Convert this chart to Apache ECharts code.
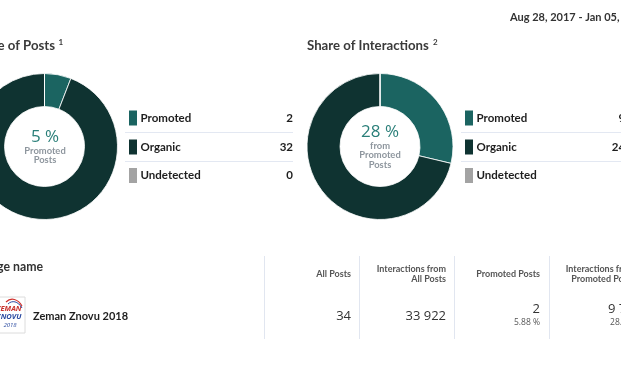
<!DOCTYPE html>
<html><head><meta charset="utf-8">
<script src="https://cdn.jsdelivr.net/npm/echarts@6/dist/echarts.min.js"></script>
<style>html,body{margin:0;padding:0;background:#fff;}#c{width:621px;height:380px;}</style>
</head><body><div id="c"></div>
<script>
// ---- data ----
var categories = ['Promoted', 'Organic', 'Undetected'];
var postsValues = [2, 32, 0];
var interactionValues = [9740, 24182, 0];
var dateRange = 'Aug 28, 2017 - Jan 05, 2018';
var tableHeaders = ['All Posts', 'Interactions from\nAll Posts', 'Promoted Posts', 'Interactions from\nPromoted Posts'];
var pageName = 'Zeman Znovu 2018';
var rowAllPosts = 34;
var rowInteractions = 33922;
var rowPromotedPosts = 2;
var rowPromotedInteractions = 9740;

var colors = ['#1b6461', '#0f3331', '#a3a3a3'];
var FONT = '"Open Sans", sans-serif';
var BFONT = 'Lato, sans-serif';

function fmt(n){ return String(n).replace(/\B(?=(\d{3})+(?!\d))/g, ' '); }
function sum(a){ return a.reduce(function(s,v){return s+v;},0); }

var chart = echarts.init(document.getElementById('c'), null, {renderer:'canvas'});

var g = [];
// date
g.push({type:'text', x:510, y:17, style:{text:dateRange, font:'bold 11px '+BFONT, fill:'#333', verticalAlign:'middle'}});
// titles
g.push({type:'text', x:55, y:46, style:{text:'Share of Posts', font:'bold 13.2px '+BFONT, fill:'#3a3a3a', align:'right', verticalAlign:'middle'}});
g.push({type:'text', x:58.5, y:42, style:{text:'1', font:'bold 8px '+BFONT, fill:'#3a3a3a', verticalAlign:'middle'}});
g.push({type:'text', x:307, y:46, style:{text:'Share of Interactions', font:'bold 13.2px '+BFONT, fill:'#3a3a3a', verticalAlign:'middle'}});
g.push({type:'text', x:433, y:42, style:{text:'2', font:'bold 8px '+BFONT, fill:'#3a3a3a', verticalAlign:'middle'}});

// center texts
var pPct = Math.floor(postsValues[0]/sum(postsValues)*100);
var iPct = Math.floor(interactionValues[0]/sum(interactionValues)*100);
g.push({type:'text', x:45, y:137, style:{text:pPct+' %', font:'17px '+FONT, fill:'#2a7f79', align:'center', verticalAlign:'middle'}});
g.push({type:'text', x:45, y:155.5, style:{text:'Promoted\nPosts', font:'bold 9.4px '+BFONT, fill:'#8e969e', align:'center', verticalAlign:'middle', lineHeight:9.5}});
g.push({type:'text', x:380, y:132, style:{text:iPct+' %', font:'17px '+FONT, fill:'#2a7f79', align:'center', verticalAlign:'middle'}});
g.push({type:'text', x:380, y:155.2, style:{text:'from\nPromoted\nPosts', font:'bold 9.4px '+BFONT, fill:'#8e969e', align:'center', verticalAlign:'middle', lineHeight:9.3}});

// legends
function legend(x0, sepX1, valX, values){
  var ys = [118, 147, 175.5];
  for (var i=0;i<categories.length;i++){
    g.push({type:'rect', shape:{x:x0+4, y:ys[i]-7.5, width:8, height:15}, style:{fill:colors[i]}});
    g.push({type:'text', x:x0+15.5, y:ys[i], style:{text:categories[i], font:'bold 11.5px '+BFONT, fill:'#1e1e1e', verticalAlign:'middle'}});
    g.push({type:'text', x:valX, y:ys[i], style:{text:fmt(values[i]), font:'bold 11.5px '+BFONT, fill:'#1e1e1e', align:'right', verticalAlign:'middle'}});
    if (i<2) g.push({type:'line', shape:{x1:x0, y1:ys[i]+14.5, x2:sepX1, y2:ys[i]+14.5}, style:{stroke:'#e3e8f2', lineWidth:1}});
  }
}
legend(125, 293, 293, postsValues);
legend(461, 660, 648, interactionValues);

// table
g.push({type:'text', x:43, y:267, style:{text:'Page name', font:'bold 12.3px '+BFONT, fill:'#333', align:'right', verticalAlign:'middle'}});
[264, 359, 454, 549].forEach(function(x){
  g.push({type:'line', shape:{x1:x+0.5, y1:256, x2:x+0.5, y2:339}, style:{stroke:'#e1e6f0', lineWidth:1}});
});
var hdrX = [351, 446, 540, 635];
for (var i=0;i<tableHeaders.length;i++){
  g.push({type:'text', x:hdrX[i], y:274.5, style:{text:tableHeaders[i], font:'bold 9px '+BFONT, fill:'#555', align:'right', verticalAlign:'middle', lineHeight:10}});
}
// logo
g.push({type:'rect', shape:{x:-3, y:297, width:28, height:36}, style:{fill:'#fff', stroke:'#dcdcdc', lineWidth:1}});
g.push({type:'text', x:9, y:309, style:{text:'ZEMAN', font:'italic bold 7.5px '+FONT, fill:'#c8322e', align:'center', verticalAlign:'middle'}});
g.push({type:'text', x:9, y:317, style:{text:'ZNOVU', font:'italic bold 7.5px '+FONT, fill:'#2a4aa0', align:'center', verticalAlign:'middle'}});
g.push({type:'text', x:10, y:325.5, style:{text:'2018', font:'italic 6px '+FONT, fill:'#2a4aa0', align:'center', verticalAlign:'middle'}});
g.push({type:'bezierCurve', shape:{x1:6, y1:302, x2:22, y2:306, cpx1:11, cpy1:297, cpx2:18, cpy2:299}, style:{stroke:'#d0312d', lineWidth:1.2, fill:null}});
g.push({type:'bezierCurve', shape:{x1:8, y1:304, x2:22, y2:308, cpx1:12, cpy1:300, cpx2:18, cpy2:301}, style:{stroke:'#2a4aa0', lineWidth:1, fill:null}});
g.push({type:'text', x:33, y:316, style:{text:pageName, font:'bold 11px '+BFONT, fill:'#1e1e1e', verticalAlign:'middle'}});
// values
g.push({type:'text', x:351, y:316, style:{text:fmt(rowAllPosts), font:'13px '+FONT, fill:'#333', align:'right', verticalAlign:'middle'}});
g.push({type:'text', x:446, y:316, style:{text:fmt(rowInteractions), font:'13px '+FONT, fill:'#333', align:'right', verticalAlign:'middle'}});
g.push({type:'text', x:540, y:309, style:{text:fmt(rowPromotedPosts), font:'13px '+FONT, fill:'#333', align:'right', verticalAlign:'middle'}});
g.push({type:'text', x:540, y:322.5, style:{text:(rowPromotedPosts/rowAllPosts*100).toFixed(2)+' %', font:'8.5px '+FONT, fill:'#555', align:'right', verticalAlign:'middle'}});
g.push({type:'text', x:641, y:309, style:{text:fmt(rowPromotedInteractions), font:'13px '+FONT, fill:'#333', align:'right', verticalAlign:'middle'}});
g.push({type:'text', x:641, y:322.5, style:{text:(rowPromotedInteractions/rowInteractions*100).toFixed(2)+' %', font:'8.5px '+FONT, fill:'#555', align:'right', verticalAlign:'middle'}});

function pieData(vals){
  return categories.map(function(c,i){ return {name:c, value:vals[i], itemStyle:{color:colors[i]}}; });
}
var pieCommon = {type:'pie', radius:[40,73], startAngle:90, clockwise:true, label:{show:false}, labelLine:{show:false},
  emphasis:{disabled:true}, itemStyle:{borderColor:'#fff', borderWidth:0.8}, silent:true};

chart.setOption({
  animation:false,
  backgroundColor:'#fff',
  series:[
    Object.assign({}, pieCommon, {name:'Share of Posts', center:[44.5,146.5], data:pieData(postsValues)}),
    Object.assign({}, pieCommon, {name:'Share of Interactions', center:[380,146.5], data:pieData(interactionValues)})
  ],
  graphic:g
});
</script></body></html>
